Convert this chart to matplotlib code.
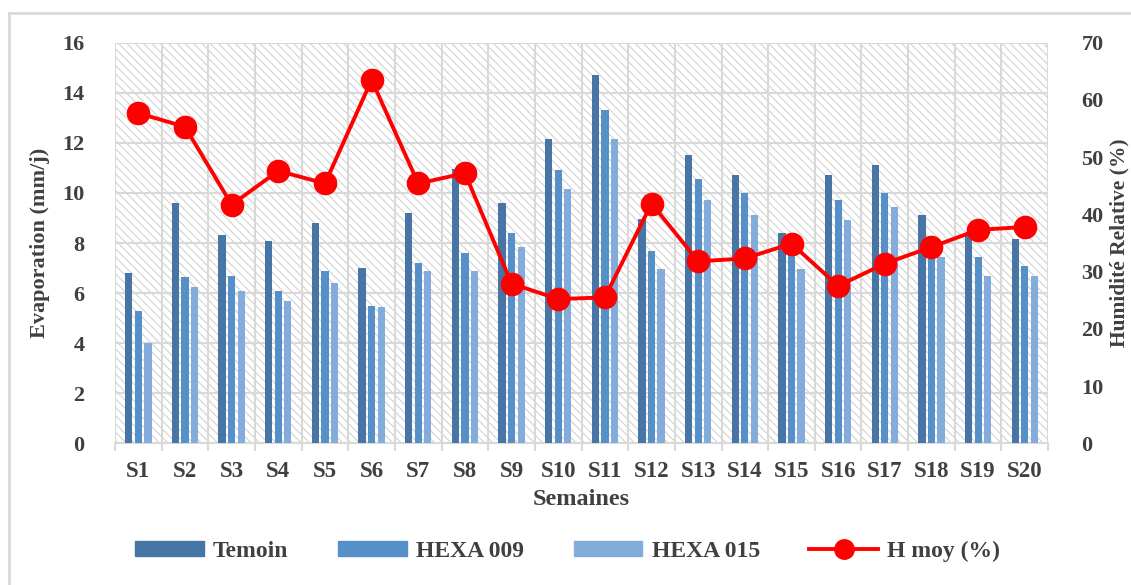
import matplotlib
matplotlib.use("Agg")
import matplotlib.pyplot as plt
from matplotlib.patches import Rectangle
from matplotlib.lines import Line2D
import numpy as np

# Weekly data
semaines = ["S1", "S2", "S3", "S4", "S5", "S6", "S7", "S8", "S9", "S10",
            "S11", "S12", "S13", "S14", "S15", "S16", "S17", "S18", "S19", "S20"]
temoin = [6.8, 9.6, 8.3, 8.1, 8.8, 7.0, 9.2, 10.95, 9.6, 12.15,
          14.7, 8.95, 11.5, 10.7, 8.4, 10.7, 11.1, 9.1, 8.3, 8.15]
hexa_009 = [5.3, 6.65, 6.7, 6.1, 6.9, 5.5, 7.2, 7.6, 8.4, 10.9,
            13.3, 7.7, 10.55, 10.0, 8.0, 9.7, 10.0, 7.9, 7.45, 7.1]
hexa_015 = [4.0, 6.25, 6.1, 5.7, 6.4, 5.45, 6.9, 6.9, 7.85, 10.15,
            12.15, 6.95, 9.7, 9.1, 6.95, 8.9, 9.45, 7.45, 6.7, 6.7]
h_moy = [57.7, 55.3, 41.7, 47.6, 45.4, 63.5, 45.4, 47.2, 27.9, 25.2,
         25.5, 41.9, 31.8, 32.3, 34.9, 27.5, 31.4, 34.3, 37.3, 37.8]

TXT = "#404040"
GRID = "#d9d9d9"
C_T = "#4776a6"
C_9 = "#5690c9"
C_15 = "#84acdb"
SERIF = ["Liberation Serif", "DejaVu Serif"]

plt.rcParams["font.family"] = SERIF
plt.rcParams["font.weight"] = "bold"
plt.rcParams["hatch.color"] = "#d2d2d2"
plt.rcParams["hatch.linewidth"] = 0.8

fig = plt.figure(figsize=(11.31, 5.85), dpi=100)
ax = fig.add_axes([0.1017, 0.2422, 0.825, 0.6848])
ax2 = ax.twinx()

n = len(semaines)
x = np.arange(n)

# hatched plot background
ax.set_facecolor("white")
bg = Rectangle((0, 0), 1, 1, transform=ax.transAxes, facecolor="white",
               edgecolor="#d2d2d2", linewidth=0, hatch="\\\\\\\\", zorder=0)
ax.add_patch(bg)

w = 0.155
ax.bar(x - 0.205, temoin, w, color=C_T, zorder=3, label="Temoin")
ax.bar(x + 0.0, hexa_009, w, color=C_9, zorder=3, label="HEXA 009")
ax.bar(x + 0.205, hexa_015, w, color=C_15, zorder=3, label="HEXA 015")

ax.set_xlim(-0.5, n - 0.5)
ax.set_ylim(0, 16)
ax.set_yticks(np.arange(0, 17, 2))
ax.set_xticks(x)
ax.set_xticklabels(semaines)
ax.set_xticks(np.arange(-0.5, n, 1.0), minor=True)

ax.grid(True, axis="y", which="major", color=GRID, linewidth=1.5, zorder=1)
ax.grid(True, axis="x", which="minor", color=GRID, linewidth=1.5, zorder=1)
ax.set_axisbelow(True)

ax.tick_params(axis="x", which="major", length=0, pad=13, labelsize=16.5, labelcolor=TXT)
ax.tick_params(axis="x", which="minor", length=6, width=1.5, color=GRID)
ax.tick_params(axis="y", length=0, pad=22, labelsize=16, labelcolor=TXT)
for s in ax.spines.values():
    s.set_visible(False)
ax.spines["bottom"].set_visible(True)
ax.spines["bottom"].set_color(GRID)
ax.spines["bottom"].set_linewidth(1.5)

ax2.plot(x, h_moy, color="#ff0000", linewidth=2.8, marker="o", markersize=16,
         zorder=5, label="H moy (%)")
ax2.set_ylim(0, 70)
ax2.set_yticks(np.arange(0, 71, 10))
ax2.tick_params(axis="y", length=0, pad=24, labelsize=16, labelcolor=TXT)
for s in ax2.spines.values():
    s.set_visible(False)

ax.set_ylabel("Evaporation (mm/j)", fontsize=16, color=TXT, fontweight="bold", labelpad=9)
ax2.set_ylabel("Humidité Relative (%)", fontsize=15.5, color=TXT, fontweight="bold", labelpad=4)
ax.set_xlabel("Semaines", fontsize=17.5, color=TXT, fontweight="bold", labelpad=5)

handles = [Rectangle((0, 0), 1, 1, color=C_T), Rectangle((0, 0), 1, 1, color=C_9),
           Rectangle((0, 0), 1, 1, color=C_15),
           Line2D([], [], color="#ff0000", linewidth=2.8, marker="o", markersize=14)]
labels = ["Temoin", "HEXA 009", "HEXA 015", "H moy (%)"]
leg = fig.legend(handles, labels, loc="center", bbox_to_anchor=(0.502, 0.058), ncol=4,
                 frameon=False, fontsize=17, handlelength=2.9, handleheight=0.6,
                 columnspacing=2.1, handletextpad=0.4)
for t in leg.get_texts():
    t.set_color(TXT)

# chart frame
fig.add_artist(Line2D([8.5 / 1131, 8.5 / 1131], [0, 1 - 13 / 585], transform=fig.transFigure,
                      color=GRID, linewidth=2))
fig.add_artist(Line2D([8.5 / 1131, 1], [1 - 13 / 585, 1 - 13 / 585], transform=fig.transFigure,
                      color=GRID, linewidth=2))

fig.savefig("out.png", dpi=100)
